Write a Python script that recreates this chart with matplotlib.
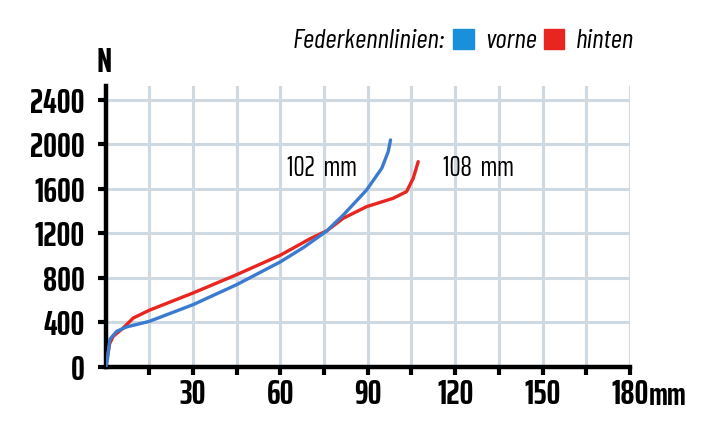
import matplotlib
matplotlib.use("Agg")
import matplotlib.pyplot as plt
from matplotlib.patches import Patch

# ---------- Data ----------
travel_front = [0, 0.6, 1.5, 3.8, 7.2, 15, 30, 45, 60, 68, 75.8, 81.6, 89.6, 94.8, 97, 97.8]
force_front = [0, 70, 250, 320, 360, 410, 560, 740, 945, 1075, 1220, 1366, 1591, 1786, 1935, 2040]

travel_rear = [0, 0.6, 1.4, 2.6, 6, 9.5, 15, 30, 45, 60, 70, 76, 81.6, 89.6, 98.7, 103.3, 105.6, 107.3]
force_rear = [0, 90, 210, 275, 350, 440, 510, 665, 830, 1005, 1150, 1225, 1337, 1441, 1516, 1576, 1696, 1845]

x_ticks = [15, 30, 45, 60, 75, 90, 105, 120, 135, 150, 165, 180]
x_labels = ["", "30", "", "60", "", "90", "", "120", "", "150", "", "180"]
y_ticks = [0, 400, 800, 1200, 1600, 2000, 2400]

front_label, rear_label = "vorne", "hinten"
front_travel_text, rear_travel_text = "102  mm", "108  mm"

# narrow sans first, plain ones as fallback
plt.rcParams['font.family'] = ['Saira ExtraCondensed', 'Barlow Condensed', 'Roboto Condensed',
                               'Liberation Sans Narrow', 'DejaVu Sans']
# Saira has no italic here, the legend uses Barlow
ITALIC_FAMILY = ['Barlow Condensed', 'Roboto Condensed', 'DejaVu Sans']

BLUE = '#3a7bd0'
RED = '#e8251f'
GRID = '#cfd9e2'

fig = plt.figure(figsize=(7.12, 4.32), dpi=100)
ax = fig.add_axes([105.6/712, 1 - 367/432, (630 - 105.6)/712, (367 - 86)/432])

ax.plot(travel_rear, force_rear, color=RED, lw=2.4, solid_capstyle='round', zorder=3)
ax.plot(travel_front, force_front, color=BLUE, lw=2.4, solid_capstyle='round', zorder=4)

ax.set_xlim(0, 180)
ax.set_ylim(0, 2525)

ax.set_xticks(x_ticks)
ax.set_xticklabels(x_labels)
ax.set_yticks(y_ticks)
ax.set_yticklabels([str(v) for v in y_ticks])

ax.grid(True, color=GRID, lw=2.2)
ax.set_axisbelow(True)

for s in ['top', 'right']:
    ax.spines[s].set_visible(False)
for s in ['left', 'bottom']:
    ax.spines[s].set_linewidth(3.2)
    ax.spines[s].set_color('black')

ax.tick_params(axis='both', direction='out', length=6, width=3, color='black')
ax.tick_params(axis='x', pad=2)
ax.tick_params(axis='y', pad=9)
for lab in ax.get_xticklabels() + ax.get_yticklabels():
    lab.set_fontsize(25)
    lab.set_fontweight('bold')

# axis units
fig.text(104/712, 1 - 63/432, "N", fontsize=25, fontweight='bold', ha='center', va='center')
fig.text(649/712, 1 - 396/432, "mm", fontsize=23, fontweight='bold', ha='left', va='center')

# travel annotations
ax.text(62.3, 1789, front_travel_text, fontsize=20, ha='left', va='center')
ax.text(115.8, 1785, rear_travel_text, fontsize=20, ha='left', va='center')

# legend header
fig.text(293/712, 1 - 41/432, "Federkennlinien:", fontsize=20, style='italic',
         family=ITALIC_FAMILY, ha='left', va='center')
handles = [Patch(color='#1a8fdc', label=front_label), Patch(color='#e8251f', label=rear_label)]
leg = fig.legend(handles=handles, loc='center left', bbox_to_anchor=(453/712, 1 - 41/432),
                 ncol=2, frameon=False, handlelength=0.75, handleheight=0.75,
                 handletextpad=0.4, columnspacing=0.25, borderpad=0, borderaxespad=0,
                 prop={'size': 20, 'style': 'italic', 'family': ITALIC_FAMILY})

fig.savefig("out.png", dpi=100)
